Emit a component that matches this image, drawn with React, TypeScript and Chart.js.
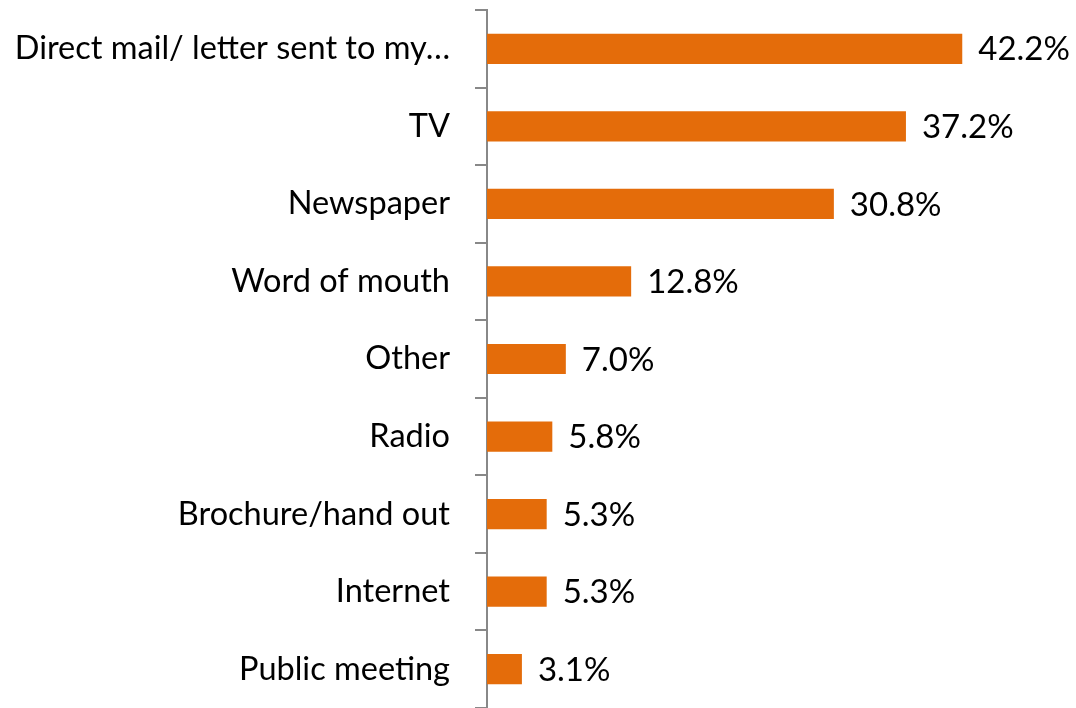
import React, { useEffect, useRef } from "react";
import { Chart, registerables } from "chart.js";

Chart.register(...registerables);

const categories = [
  "Direct mail/ letter sent to my…",
  "TV",
  "Newspaper",
  "Word of mouth",
  "Other",
  "Radio",
  "Brochure/hand out",
  "Internet",
  "Public meeting",
];
const values = [42.2, 37.2, 30.8, 12.8, 7.0, 5.8, 5.3, 5.3, 3.1];

const FONT = "Lato, 'Open Sans', sans-serif";

const valueLabels = {
  id: "valueLabels",
  afterDatasetsDraw(chart: any) {
    const ctx = chart.ctx;
    const meta = chart.getDatasetMeta(0);
    ctx.save();
    ctx.font = `33px ${FONT}`;
    ctx.fillStyle = "#000";
    ctx.textAlign = "left";
    ctx.textBaseline = "middle";
    meta.data.forEach((bar: any, i: number) => {
      ctx.fillText(values[i].toFixed(1) + "%", bar.x + 16, bar.y + 1);
    });
    ctx.restore();
  },
};

export default function App() {
  const ref = useRef<HTMLCanvasElement>(null);
  useEffect(() => {
    if (!ref.current) return;
    const chart = new Chart(ref.current, {
      type: "bar",
      data: {
        labels: categories,
        datasets: [
          {
            data: values,
            backgroundColor: "#E46C0A",
            barPercentage: 0.39,
            categoryPercentage: 1,
          },
        ],
      },
      options: {
        indexAxis: "y",
        animation: false,
        responsive: false,
        maintainAspectRatio: false,
        layout: { padding: { top: 10, bottom: 0, left: 0, right: 0 } },
        plugins: { legend: { display: false }, tooltip: { enabled: false } },
        scales: {
          x: {
            display: false,
            min: 0,
            max: 52.3,
          },
          y: {
            afterFit: (scale: any) => {
              scale.width = 487;
              scale.paddingTop = 0;
              scale.paddingBottom = 0;
            },
            grid: {
              offset: true,
              drawOnChartArea: false,
              drawTicks: true,
              tickLength: 12,
              color: "#888888",
              lineWidth: 2,
            },
            border: { display: true, color: "#888888", width: 2 },
            ticks: {
              padding: 25,
              color: "#000",
              autoSkip: false,
              font: { size: 32.5, family: FONT },
            },
          },
        },
      },
      plugins: [valueLabels],
    });
    return () => chart.destroy();
  }, []);
  return (
    <div style={{ position: "absolute", left: 0, top: 0, width: 1076, height: 708 }}>
      <canvas ref={ref} width={1076} height={708} style={{ display: "block" }} />
    </div>
  );
}
